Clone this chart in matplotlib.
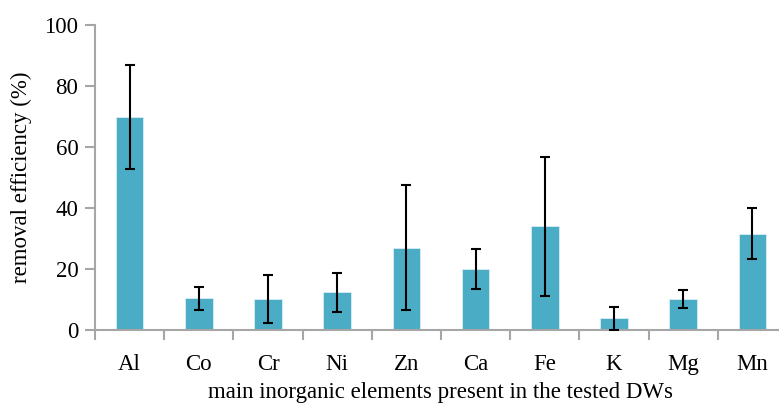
import numpy as np
import matplotlib.pyplot as plt
from matplotlib.ticker import FixedLocator

elements = ['Al', 'Co', 'Cr', 'Ni', 'Zn', 'Ca', 'Fe', 'K', 'Mg', 'Mn']
efficiency = [69.8, 10.4, 10.2, 12.4, 27.0, 20.0, 34.0, 3.9, 10.2, 31.6]
errors = [17.0, 3.7, 7.9, 6.4, 20.5, 6.5, 22.8, 3.8, 3.0, 8.4]

plt.rcParams['font.family'] = ['Liberation Serif', 'DejaVu Serif']

fig = plt.figure(figsize=(7.79, 4.08), dpi=100)
ax = fig.add_axes([95/779, 78/408, 692/779, 305/408])

x = np.arange(len(elements))
ax.bar(x, efficiency, width=0.4, color='#4BACC6', edgecolor='#d8eef4', linewidth=0.6, zorder=2)
ax.errorbar(x, efficiency, yerr=errors, fmt='none', ecolor='black', elinewidth=1.5,
            capsize=3.5, capthick=1.5, zorder=3)

ax.set_xlim(-0.5, len(elements) - 0.5)
ax.set_ylim(0, 100)
ax.set_yticks(range(0, 101, 20))
ax.set_xticks(x)
ax.set_xticklabels(elements)
ax.xaxis.set_minor_locator(FixedLocator(np.arange(-0.5, len(elements), 1)))

for side in ['top', 'right']:
    ax.spines[side].set_visible(False)
for side in ['left', 'bottom']:
    ax.spines[side].set_color('#a6a6a6')
    ax.spines[side].set_linewidth(1.5)

ax.tick_params(axis='y', direction='out', length=7, width=1.5, color='#a6a6a6', labelsize=16.5, pad=5)
ax.tick_params(axis='x', which='major', length=0, labelsize=16.5, pad=17)
ax.tick_params(axis='x', which='minor', direction='out', length=7, width=1.5, color='#a6a6a6')

ax.set_ylabel('removal efficiency (%)', fontsize=16.5, labelpad=9)
ax.set_xlabel('main inorganic elements present in the tested DWs', fontsize=16.5, labelpad=5)

fig.savefig('out.png', dpi=100)
